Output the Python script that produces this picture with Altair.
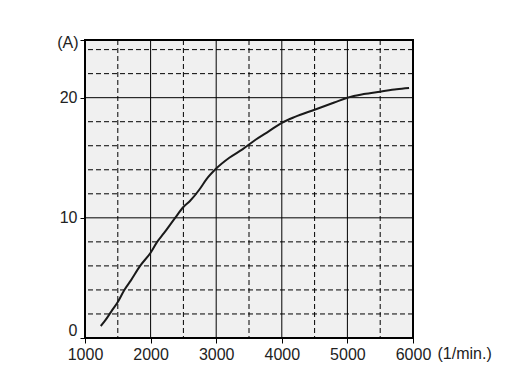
import altair as alt
import pandas as pd

rpm = [1240, 1300, 1400, 1500, 1600, 1700, 1840, 2000, 2100, 2200, 2374, 2500,
       2600, 2750, 2850, 3000, 3200, 3400, 3600, 3800, 4000, 4200, 4500, 4800,
       5000, 5250, 5500, 5750, 5940]
amps = [1.0, 1.4, 2.2, 3.0, 4.0, 4.8, 6.0, 7.1, 8.0, 8.7, 10.0, 10.9,
        11.4, 12.4, 13.2, 14.1, 15.0, 15.7, 16.5, 17.2, 17.9, 18.4, 19.0, 19.6,
        20.0, 20.3, 20.5, 20.7, 20.8]

x_major = [2000, 3000, 4000, 5000]
x_minor = [1500, 2500, 3500, 4500, 5500]
y_major = [10, 20]
y_minor = [2, 4, 6, 8, 12, 14, 16, 18, 22, 24]
x_ticks = [1000, 2000, 3000, 4000, 5000, 6000]
y_ticks = [0, 10, 20, 24.8]

xs = alt.Scale(domain=[1000, 6000], nice=False, zero=False)
ys = alt.Scale(domain=[0, 24.8], nice=False)

x_axis = alt.Axis(values=x_ticks, format="d", title="(1/min.)",
                  titleAngle=0, titleAlign="left", titleBaseline="alphabetic",
                  titleX=352, titleY=20, labelPadding=3, labelFlush=False,
                  labelOverlap=False)
y_axis = alt.Axis(values=y_ticks, format="d", title="(A)",
                  titleAngle=0, titleAlign="right", titleBaseline="middle",
                  titleX=-7, titleY=2, labelPadding=3, labelFlush=True,
                  labelFlushOffset=0, labelOverlap=False,
                  labelExpr="datum.value > 24 ? '' : datum.label")

curve = pd.DataFrame({"rpm": rpm, "amps": amps})

def vrules(vals, dash):
    return alt.Chart(pd.DataFrame({"rpm": vals})).mark_rule(
        color="black", strokeWidth=1, strokeDash=dash
    ).encode(x=alt.X("rpm:Q", scale=xs, axis=x_axis))

def hrules(vals, dash):
    return alt.Chart(pd.DataFrame({"amps": vals})).mark_rule(
        color="black", strokeWidth=1, strokeDash=dash
    ).encode(y=alt.Y("amps:Q", scale=ys, axis=y_axis))

line = alt.Chart(curve).mark_line(
    color="#1a1a1a", strokeWidth=2, interpolate="monotone"
).encode(
    x=alt.X("rpm:Q", scale=xs, axis=x_axis),
    y=alt.Y("amps:Q", scale=ys, axis=y_axis),
)

chart = alt.layer(
    vrules(x_minor, [5, 3]), hrules(y_minor, [5, 3]),
    vrules(x_major, []), hrules(y_major, []),
    line,
).properties(
    width=328, height=298,
    autosize=alt.AutoSizeParams(type="none"),
    padding={"left": 77, "top": 32, "right": 90, "bottom": 40},
).configure_view(
    stroke="black", strokeWidth=2, fill="#f0f0f0"
).configure_axis(
    domain=False, grid=False, ticks=True, tickColor="black", tickSize=5,
    tickWidth=1, labelFont="Liberation Sans", labelFontSize=16,
    labelColor="#222", titleFont="Liberation Sans", titleFontSize=16,
    titleColor="#222", titleFontWeight="normal"
)

chart.save("out.html", embed_options={"renderer": "svg", "actions": False})
